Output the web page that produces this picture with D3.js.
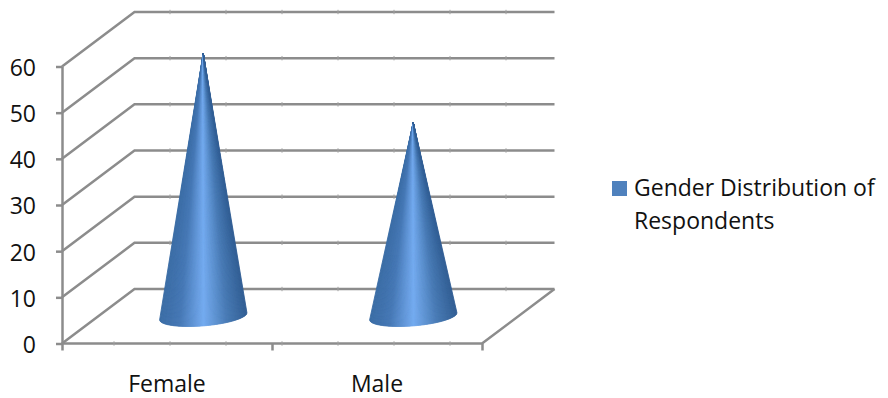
<!DOCTYPE html>
<html>
<head>
<meta charset="utf-8">
<script src="https://cdn.jsdelivr.net/npm/d3@7"></script>
<style>
  html, body { margin: 0; padding: 0; background: #fff; }
  svg { display: block; }
  text { font-family: "Open Sans", sans-serif; fill: #111; }
</style>
</head>
<body>
<svg id="chart" width="888" height="398"></svg>
<script>
const categories = ["Female", "Male"];
const values = [57, 42];
const seriesName = ["Gender Distribution of", "Respondents"];
const yTicks = [0, 10, 20, 30, 40, 50, 60];

const svg = d3.select("#chart");
const gridColor = "#8c8c8c";
const fontSize = 23;
const front = { left: 62, right: 482, bottom: 343.5, top: 66.5 };
const depth = { dx: 72.5, dy: -54.5 };

const y = d3.scaleLinear().domain([0, 60]).range([front.bottom, front.top]);
const x = d3.scaleBand().domain(categories).range([front.left, front.right]);
const edge = d3.scaleLinear().domain([0, categories.length]).range([front.left, front.right]);

// Walls of the 3-D box: back-wall gridlines and the side-wall diagonals
const grid = svg.append("g").attr("stroke", gridColor).attr("stroke-width", 2.5).attr("fill", "none");
grid.selectAll("path.wall")
  .data(yTicks)
  .join("path")
  .attr("class", "wall")
  .attr("d", v => d3.line()([
    [front.left, y(v)],
    [front.left + depth.dx, y(v) + depth.dy],
    [front.right + depth.dx, y(v) + depth.dy]
  ]));

// Floor outline
grid.append("path").attr("d", d3.line()([
  [front.left, y(0)],
  [front.right, y(0)],
  [front.right + depth.dx, y(0) + depth.dy]
]));

// Small notches along the back-wall lines and the front floor edge
const notchX = d3.range(front.left + 108, front.right + depth.dx - 10, 56);
const notches = svg.append("g").attr("stroke", "#a0a0a0").attr("stroke-width", 1);
yTicks.forEach(v => {
  notches.selectAll(null)
    .data(notchX)
    .join("line")
    .attr("x1", d => d).attr("x2", d => d)
    .attr("y1", y(v) + depth.dy - 2.2).attr("y2", y(v) + depth.dy + 2.2);
});
notches.selectAll(null)
  .data(d3.range(front.left + 52, front.right, 56))
  .join("line")
  .attr("x1", d => d).attr("x2", d => d)
  .attr("y1", y(0) - 2.2).attr("y2", y(0) + 2.2);

// Value axis
const yAxis = svg.append("g")
  .attr("transform", `translate(${front.left},0)`)
  .call(d3.axisLeft(y).tickValues(yTicks).tickSize(6).tickPadding(20).tickSizeOuter(0));
yAxis.selectAll("path, line").attr("stroke", gridColor).attr("stroke-width", 2.5);
yAxis.selectAll("text").attr("font-size", fontSize).attr("dy", "0.39em").style("font-family", "'Open Sans'");

// Category boundary ticks
const xTicks = svg.append("g")
  .attr("transform", `translate(0,${front.bottom})`)
  .call(d3.axisBottom(edge).tickValues(d3.range(categories.length + 1)).tickSize(7).tickFormat(""));
xTicks.select("path").remove();
xTicks.selectAll("line").attr("stroke", gridColor).attr("stroke-width", 2.5);

// Category labels
const xLabels = svg.append("g")
  .attr("transform", `translate(0,${front.bottom})`)
  .call(d3.axisBottom(x).tickSize(0).tickPadding(32));
xLabels.select("path").remove();
xLabels.selectAll("text").attr("font-size", fontSize).style("font-family", "'Open Sans'");

// Lateral shading: -1 at the left silhouette, +1 at the right
const shade = d3.scaleLinear()
  .domain([-1, -0.55, 0, 0.55, 1])
  .range(["#3a6ca5", "#4678b5", "#74abf0", "#487ab4", "#315e94"]);

// Cones stand at mid-depth on the floor; the base ellipse is tilted by the view angle.
// Each cone is a fan of slices from apex to base rim, so shading narrows to the tip.
const rx = x.bandwidth() * 0.2085;
const ry = 9.6;
const tilt = -4.8 * Math.PI / 180;
const sliceCount = 88;
const cones = svg.append("g").selectAll("g.cone")
  .data(categories.map((c, i) => ({ c, v: values[i] })))
  .join("g")
  .attr("class", "cone");

cones.each(function (d) {
  const cx = x(d.c) + x.bandwidth() / 2 + depth.dx / 2;
  const cy = y(0) + depth.dy / 2;
  const apex = [cx, y(d.v) + depth.dy / 2];
  // Rim point for a lateral position u in [-1, 1] along the front of the base
  const rim = u => {
    const ex = rx * u, ey = ry * Math.sqrt(Math.max(0, 1 - u * u));
    return [cx + ex * Math.cos(tilt) - ey * Math.sin(tilt),
            cy + ex * Math.sin(tilt) + ey * Math.cos(tilt)];
  };
  const lateral = i => -1 + 2 * i / sliceCount;
  const g = d3.select(this);
  g.selectAll("path")
    .data(d3.range(sliceCount))
    .join("path")
    .attr("d", i => {
      const a = lateral(i), b = lateral(i + 1);
      const arc = d3.range(5).map(k => rim(a + (b - a) * k / 4));
      return d3.line()([apex, ...arc]) + "Z";
    })
    .attr("fill", i => shade(lateral(i + 0.5)))
    .attr("stroke", i => shade(lateral(i + 0.5)))
    .attr("stroke-width", 0.9)
    .attr("stroke-linejoin", "round");
});

// Legend
const legend = svg.append("g");
legend.append("rect").attr("x", 612).attr("y", 181).attr("width", 15).attr("height", 15).attr("fill", "#4f81bd");
legend.selectAll("text")
  .data(seriesName)
  .join("text")
  .attr("x", 634)
  .attr("y", (d, i) => 196 + i * 33)
  .attr("font-size", fontSize)
  .text(d => d);
</script>
</body>
</html>
